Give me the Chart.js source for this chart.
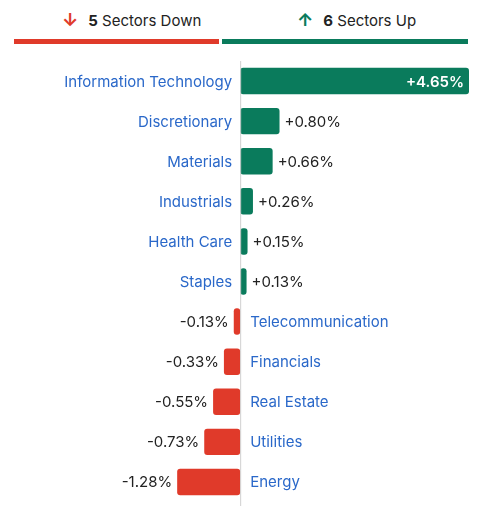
<!DOCTYPE html>
<html>
<head>
<meta charset="utf-8">
<script src="https://cdn.jsdelivr.net/npm/chart.js@4"></script>
<style>
  body { margin: 0; background: #fff; font-family: Inter, "Noto Sans", sans-serif; }
  #head { position: relative; height: 48px; width: 481px; }
  .lbl { position: absolute; top: 9px; font-size: 15px; color: #222; }
  .lbl b { font-weight: 700; }
  .arr { font-weight: 700; font-size: 18px; margin-right: 10px; }
  #split { position: absolute; left: 14px; top: 39px; width: 454px; height: 5px; display: flex; gap: 3px; }
  #wrap { position: relative; width: 481px; height: 461px; }
</style>
</head>
<body>
<div id="head">
  <div class="lbl" style="left:62px"><span class="arr" style="color:#e03a2a">&#8595;</span><b>5</b> Sectors Down</div>
  <div class="lbl" style="left:297px"><span class="arr" style="color:#0a7b5c">&#8593;</span><b>6</b> Sectors Up</div>
  <div id="split"></div>
</div>
<div id="wrap"><canvas id="c"></canvas></div>
<script>
// Sector performance, % change
const sectors = ['Information Technology', 'Discretionary', 'Materials', 'Industrials', 'Health Care', 'Staples',
                 'Telecommunication', 'Financials', 'Real Estate', 'Utilities', 'Energy'];
const changes = [4.65, 0.80, 0.66, 0.26, 0.15, 0.13, -0.13, -0.33, -0.55, -0.73, -1.28];

const GREEN = '#0a7b5c', RED = '#e03a2a', BLUE = '#2a68c9';

const down = changes.filter(v => v < 0).length;
const up = changes.filter(v => v > 0).length;
document.getElementById('split').innerHTML =
  `<div style="flex:${down};background:${RED}"></div><div style="flex:${up};background:${GREEN}"></div>`;

const fmt = v => (v > 0 ? '+' : '') + v.toFixed(2) + '%';

// Draws zero line, sector names and value labels
const labelPlugin = {
  id: 'labels',
  afterDatasetsDraw(chart) {
    const { ctx, scales: { x, y }, chartArea } = chart;
    const zx = x.getPixelForValue(0);
    ctx.save();
    ctx.strokeStyle = '#d0d0d0';
    ctx.lineWidth = 1;
    ctx.beginPath();
    ctx.moveTo(zx + 0.5, chartArea.top);
    ctx.lineTo(zx + 0.5, chartArea.bottom + 4);
    ctx.stroke();
    ctx.font = '15px Inter, "Noto Sans", sans-serif';
    ctx.textBaseline = 'middle';
    const meta = chart.getDatasetMeta(0);
    changes.forEach((v, i) => {
      const yy = meta.data[i].y + 1;
      const ex = x.getPixelForValue(v);
      ctx.fillStyle = BLUE;
      if (v >= 0) {
        ctx.textAlign = 'right';
        ctx.fillText(sectors[i], zx - 8, yy);
      } else {
        ctx.textAlign = 'left';
        ctx.fillText(sectors[i], zx + 10, yy);
      }
      ctx.fillStyle = '#222';
      if (v >= 0) {
        if (ex - zx > 80) {
          ctx.fillStyle = '#fff';
          ctx.font = '600 15px Inter, "Noto Sans", sans-serif';
          ctx.textAlign = 'right';
          ctx.fillText(fmt(v), ex - 5, yy);
          ctx.font = '15px Inter, "Noto Sans", sans-serif';
        } else {
          ctx.textAlign = 'left';
          ctx.fillText(fmt(v), ex + 5, yy);
        }
      } else {
        ctx.textAlign = 'right';
        ctx.fillText(fmt(v), ex - 5, yy);
      }
    });
    ctx.restore();
  }
};

new Chart(document.getElementById('c'), {
  type: 'bar',
  data: {
    labels: sectors,
    datasets: [{
      data: changes,
      backgroundColor: changes.map(v => v >= 0 ? GREEN : RED),
      borderRadius: 3,
      borderSkipped: false,
      barPercentage: 0.66,
      categoryPercentage: 1
    }]
  },
  options: {
    indexAxis: 'y',
    responsive: true,
    maintainAspectRatio: false,
    animation: false,
    layout: { padding: { left: 0, right: 12, top: 13, bottom: 7 } },
    scales: {
      x: { display: false, min: -4.88, max: 4.65 },
      y: { display: false }
    },
    plugins: { legend: { display: false }, tooltip: { enabled: false } }
  },
  plugins: [labelPlugin]
});
</script>
</body>
</html>
